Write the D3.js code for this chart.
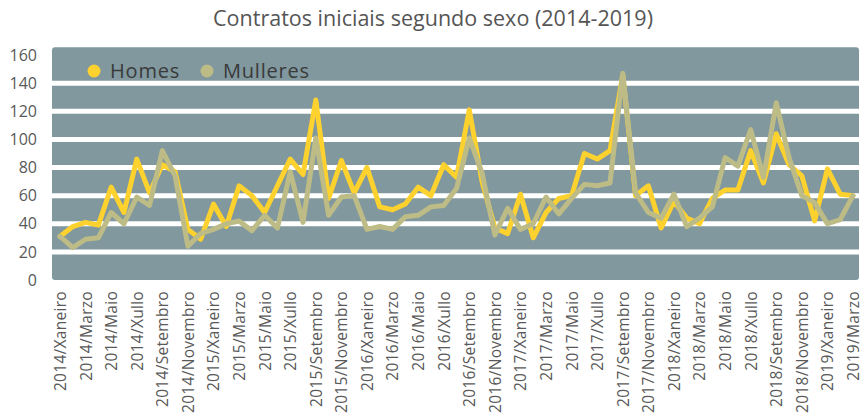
<!DOCTYPE html>
<html>
<head>
<meta charset="utf-8">
<script src="https://cdn.jsdelivr.net/npm/d3@7"></script>
<style>
  html, body { margin: 0; padding: 0; background: #ffffff; }
  svg { display: block; }
</style>
</head>
<body>
<svg id="chart" width="866" height="419"></svg>
<script>
// ---- Data ----
const years = [2014, 2015, 2016, 2017, 2018, 2019];
const monthNames = ["Xaneiro","Febreiro","Marzo","Abril","Maio","Xuño","Xullo","Agosto","Setembro","Outubro","Novembro","Decembro"];
const categories = [];
years.forEach(y => monthNames.forEach((m, i) => {
  if (y < 2019 || i < 3) categories.push(y + "/" + m);
}));

const homes = [31, 38, 41, 39, 66, 48, 86, 62, 82, 77, 36, 29,
               54, 38, 67, 60, 48, 67, 86, 75, 128, 58, 85, 62,
               80, 52, 50, 54, 66, 60, 82, 73, 121, 70, 37, 33,
               61, 30, 48, 58, 60, 90, 86, 92, 146, 60, 67, 37,
               56, 44, 40, 58, 64, 64, 92, 69, 104, 82, 74, 42,
               79, 61, 60];
const mulleres = [31, 23, 29, 30, 48, 40, 59, 53, 92, 74, 24, 33,
                  36, 40, 42, 35, 46, 37, 77, 41, 101, 46, 59, 60,
                  36, 38, 36, 45, 46, 52, 53, 65, 101, 76, 32, 51,
                  36, 40, 59, 47, 58, 68, 67, 69, 147, 62, 48, 44,
                  61, 38, 44, 52, 87, 81, 107, 73, 126, 87, 60, 55,
                  40, 43, 60];
const yTicks = [0, 20, 40, 60, 80, 100, 120, 140, 160];
const xTickLabels = categories.filter((d, i) => i % 2 === 0);
const seriesNames = ["Homes", "Mulleres"];
const seriesColors = ["#fdd12e", "#bdbb86"];
const title = "Contratos iniciais segundo sexo (2014-2019)";

// ---- Chart ----
const svg = d3.select("#chart");
const font = "'Open Sans', 'Noto Sans', sans-serif";

const x = d3.scalePoint().domain(categories).range([60, 853]);
const y = d3.scaleLinear().domain([0, 160]).range([280, 55]);

// Title
svg.append("text")
  .attr("x", 433).attr("y", 26)
  .attr("text-anchor", "middle")
  .attr("font-family", font)
  .attr("font-size", 21)
  .attr("fill", "#555555")
  .attr("textLength", 440)
  .attr("lengthAdjust", "spacingAndGlyphs")
  .text(title);

// Plot background
svg.append("rect")
  .attr("x", 52).attr("y", y(165.5))
  .attr("width", 807).attr("height", y(0) - y(165.5))
  .attr("rx", 3)
  .attr("fill", "#80989e");

// White gridlines
svg.append("g")
  .selectAll("line")
  .data(yTicks.filter(d => d > 0 && d < 160))
  .join("line")
  .attr("x1", 52).attr("x2", 859)
  .attr("y1", d => y(d)).attr("y2", d => y(d))
  .attr("stroke", "#ffffff")
  .attr("stroke-width", 5);

// Y axis labels
const yAxis = d3.axisLeft(y).tickValues(yTicks).tickSize(0).tickPadding(0);
const gy = svg.append("g").attr("transform", "translate(37,0)").call(yAxis);
gy.select(".domain").remove();
gy.selectAll("text")
  .attr("font-family", font)
  .attr("font-size", 16)
  .attr("fill", "#595959");

// X axis labels
const xAxis = d3.axisBottom(x).tickValues(xTickLabels).tickSize(0).tickPadding(0);
const gx = svg.append("g").attr("transform", "translate(0,291)").call(xAxis);
gx.select(".domain").remove();
gx.selectAll("text")
  .attr("font-family", font)
  .attr("font-size", 15.5)
  .attr("fill", "#595959")
  .attr("text-anchor", "end")
  .attr("transform", "rotate(-90)")
  .attr("x", 0)
  .attr("y", 0)
  .attr("dy", "0.35em")
  .attr("letter-spacing", 0.3);

// Lines
const line = d3.line()
  .x((d, i) => x(categories[i]))
  .y(d => y(d))
  .curve(d3.curveLinear);

[homes, mulleres].forEach((vals, k) => {
  svg.append("path")
    .datum(vals)
    .attr("d", line)
    .attr("fill", "none")
    .attr("stroke", seriesColors[k])
    .attr("stroke-width", 5)
    .attr("stroke-linejoin", "round")
    .attr("stroke-linecap", "round");
});

// Legend
const legendX = [94, 207];
const lg = svg.append("g");
seriesNames.forEach((name, k) => {
  lg.append("circle")
    .attr("cx", legendX[k]).attr("cy", 71)
    .attr("r", 6.5)
    .attr("fill", seriesColors[k]);
  lg.append("text")
    .attr("x", legendX[k] + 16).attr("y", 78)
    .attr("font-family", font)
    .attr("font-size", 20)
    .attr("letter-spacing", 0.8)
    .attr("fill", "#3a3a3a")
    .text(name);
});
</script>
</body>
</html>
